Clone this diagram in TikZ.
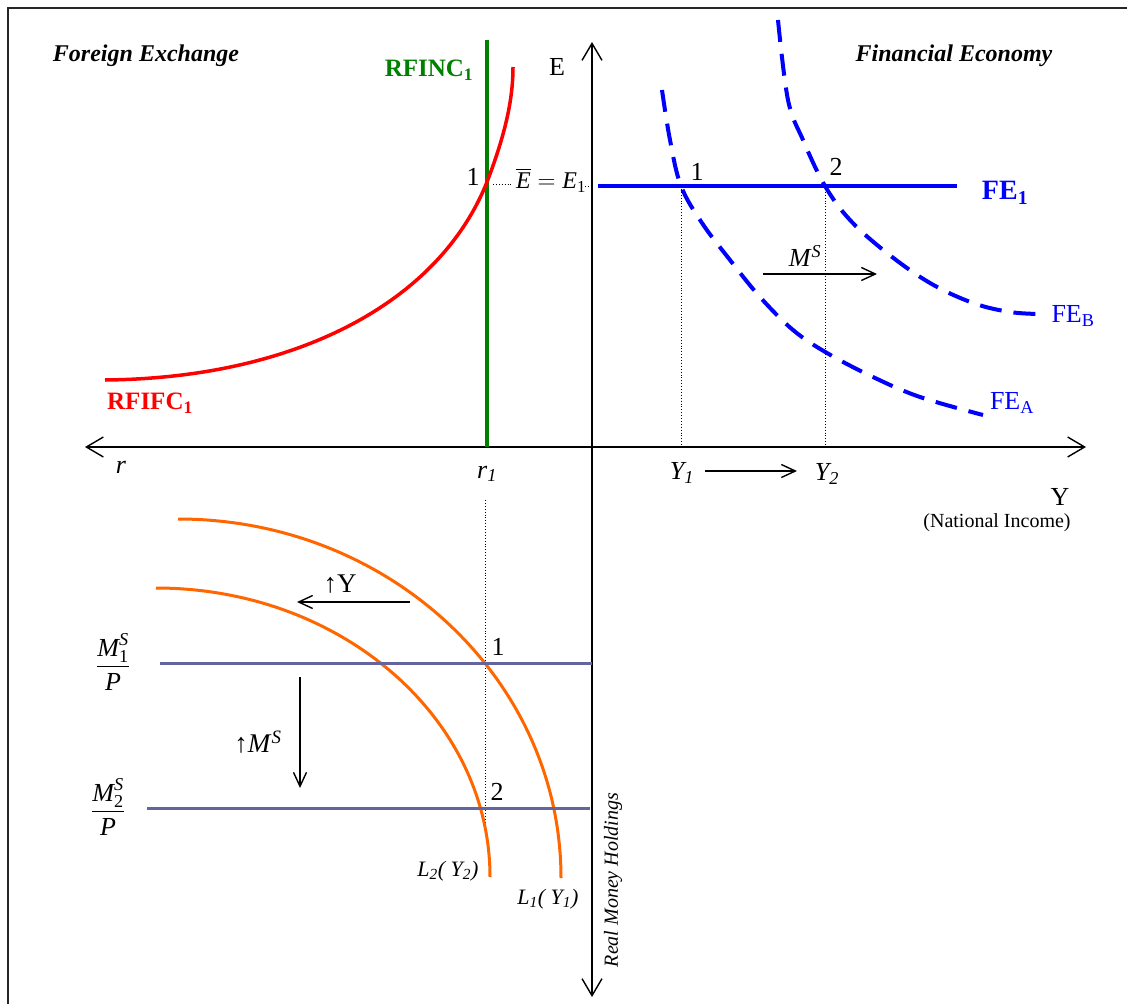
\documentclass[tikz,border=0pt]{standalone}
\usepackage{amsmath}
\usepackage{fontspec}
\setmainfont{Liberation Serif}
\usetikzlibrary{arrows.meta}
\definecolor{feblue}{RGB}{0,0,255}
\definecolor{rgreen}{RGB}{0,128,0}
\definecolor{lorange}{RGB}{255,102,0}
\definecolor{mslate}{RGB}{100,100,158}
\newcommand{\mysub}[1]{\textsubscript{#1}}
\begin{document}
\begin{tikzpicture}[x=1pt,y=-1pt,
  lab/.style={inner sep=0pt, font=\fontsize{24}{28}\selectfont},
  biglab/.style={inner sep=0pt, font=\fontsize{26}{30}\selectfont},
  smalllab/.style={inner sep=0pt, font=\fontsize{20}{24}\selectfont},
  axisline/.style={line width=1.4pt, {Straight Barb[length=17pt,width=20pt,line width=1.4pt]}-{Straight Barb[length=17pt,width=20pt,line width=1.4pt]}},
  shiftarrow/.style={line width=1.4pt, -{Straight Barb[length=14pt,width=13pt,line width=1.4pt]}},
  guide/.style={dotted, line width=0.9pt},
  fedash/.style={feblue, line width=4pt, dash pattern=on 22pt off 12pt},
  lcurve/.style={lorange, line width=3pt},
  msline/.style={mslate, line width=3pt}]
\useasboundingbox (0,0) rectangle (1127,1004);
% frame
\draw[line width=2pt, black!85] (8,1004) -- (8,8) -- (1127,8);

% axes
\coordinate (ytop) at (592,42);
\coordinate (ybot) at (592,997);
\coordinate (xl) at (85,447);
\coordinate (xr) at (1086,447);
\draw[axisline] (ybot) -- (ytop);
\draw[axisline] (xl) -- (xr);

% titles
\node[lab, font=\fontsize{24}{28}\selectfont\bfseries\itshape] (tFX) at (146,56) {Foreign Exchange};
\node[lab, font=\fontsize{24}{28}\selectfont\bfseries\itshape] (tFin) at (954,56) {Financial Economy};

% RFINC green line
\coordinate (g1) at (487,40);
\coordinate (g2) at (487,447);
\draw[rgreen, line width=3.5pt] (g1) -- (g2);
\node[lab, rgreen, font=\fontsize{25}{29}\selectfont\bfseries] (lRFINC) at (429,70) {RFINC\mysub{1}};

% RFIFC red curve
\coordinate (r0) at (105,380);
\coordinate (r1) at (487,182);
\coordinate (r2) at (513,67);
\draw[red, line width=3.5pt] (r0) .. controls (300,378) and (440,300) .. (r1) .. controls (505,135) and (513,100) .. (r2);
\node[lab, red, font=\fontsize{25}{29}\selectfont\bfseries] (lRFIFC) at (150,403) {RFIFC\mysub{1}};

% point 1 on left, E bar label
\node[biglab] (p1l) at (473,177) {1};
\coordinate (d1) at (493,184);
\coordinate (d2) at (512,184);
\draw[guide] (d1) -- (d2);
\node[lab] (Ebar) at (551,180) {$\overline{\hbox{\textit{E}}}=\textit{E}_{\textup{1}}$};
\coordinate (d3) at (585,186);
\coordinate (d4) at (592,186);
\draw[guide] (d3) -- (d4);
\node[biglab] (lE) at (557,67) {E};

% FE1
\coordinate (fe1a) at (598,186);
\coordinate (fe1b) at (957,186);
\draw[feblue, line width=4.5pt] (fe1a) -- (fe1b);
\node[lab, feblue, font=\fontsize{28}{32}\selectfont\bfseries] (lFE1) at (1005,193) {FE\mysub{1}};

% FE_A and FE_B dashed
\draw[fedash] plot[smooth, tension=0.6] coordinates {(662,90) (670,140) (681,186) (702,223) (730,260) (760,297) (793,330) (827,353) (873,377) (920,397) (983,415)};
\draw[fedash] plot[smooth, tension=0.6] coordinates {(778,20) (788,100) (803,140) (825,186) (850,220) (887,253) (930,283) (973,303) (1010,312) (1040,314)};
\node[lab, feblue, font=\fontsize{26}{30}\selectfont] (lFEB) at (1073,316) {FE\mysub{B}};
\node[lab, feblue, font=\fontsize{26}{30}\selectfont] (lFEA) at (1012,403) {FE\mysub{A}};

\node[biglab] (p1r) at (697,172) {1};
\node[biglab] (p2r) at (836,167) {2};

% M^S shift arrow
\coordinate (ms1) at (763,274);
\coordinate (ms2) at (877,274);
\draw[shiftarrow] (ms1) -- (ms2);
\node[biglab] (lMS) at (805,256) {\textit{M}$^{\textit{S}}$};

% dotted verticals
\coordinate (v1t) at (681,186);
\coordinate (v1b) at (681,447);
\coordinate (v2t) at (825,186);
\coordinate (v2b) at (825,447);
\draw[guide] (v1t) -- (v1b);
\draw[guide] (v2t) -- (v2b);

% axis labels
\node[biglab] (lr) at (121,467) {\textit{r}};
\node[biglab] (lr1) at (487,474) {\textit{r\mysub{1}}};
\node[biglab] (lY1) at (682,473) {\textit{Y\mysub{1}}};
\node[biglab] (lY2) at (827,474) {\textit{Y\mysub{2}}};
\coordinate (ya) at (705,471);
\coordinate (yb) at (797,471);
\draw[shiftarrow] (ya) -- (yb);
\node[biglab] (lY) at (1060,497) {Y};
\node[smalllab] (lNI) at (997,523) {(National Income)};

% lower quadrant
\coordinate (v3t) at (485,500);
\coordinate (v3b) at (485,830);
\draw[guide] (v3t) -- (v3b);

\coordinate (L1s) at (178,519);
\coordinate (L2s) at (156,588);
\draw[lcurve] (L1s) arc[start angle=-90, end angle=0, x radius=383, y radius=359] coordinate (L1e);
\draw[lcurve] (L2s) arc[start angle=-90, end angle=0, x radius=334, y radius=289] coordinate (L2e);

\coordinate (m1a) at (160,663);
\coordinate (m1b) at (592,663);
\coordinate (m2a) at (147,808);
\coordinate (m2b) at (590,808);
\draw[msline] (m1a) -- (m1b);
\draw[msline] (m2a) -- (m2b);

\node[biglab] (fr1) at (113,662) {$\displaystyle\frac{\textit{M}^{\textit{S}}_{\textup{1}}}{\textit{P}}$};
\node[biglab] (fr2) at (108,807) {$\displaystyle\frac{\textit{M}^{\textit{S}}_{\textup{2}}}{\textit{P}}$};

\node[biglab] (p1b) at (498,647) {1};
\node[biglab] (p2b) at (497,792) {2};

% up Y arrow
\coordinate (uy1) at (410,602);
\coordinate (uy2) at (297,602);
\draw[shiftarrow] (uy1) -- (uy2);
\node[biglab, font=\fontsize{27}{31}\selectfont] (lupY) at (340,584) {↑Y};

% down M arrow
\coordinate (dm1) at (300,677);
\coordinate (dm2) at (300,788);
\draw[shiftarrow] (dm1) -- (dm2);
\node[biglab, font=\fontsize{27}{31}\selectfont] (lupM) at (258,742) {↑\textit{M}$^{\textit{S}}$};

\node[lab, font=\fontsize{22}{26}\selectfont] (lL2) at (448,871) {\textit{L\mysub{2}( Y\mysub{2})}};
\node[lab, font=\fontsize{22}{26}\selectfont] (lL1) at (548,899) {\textit{L\mysub{1}( Y\mysub{1})}};

\node[smalllab, rotate=90, font=\fontsize{20}{24}\selectfont\itshape] (lRMH) at (613,880) {Real Money Holdings};
\end{tikzpicture}
\end{document}
